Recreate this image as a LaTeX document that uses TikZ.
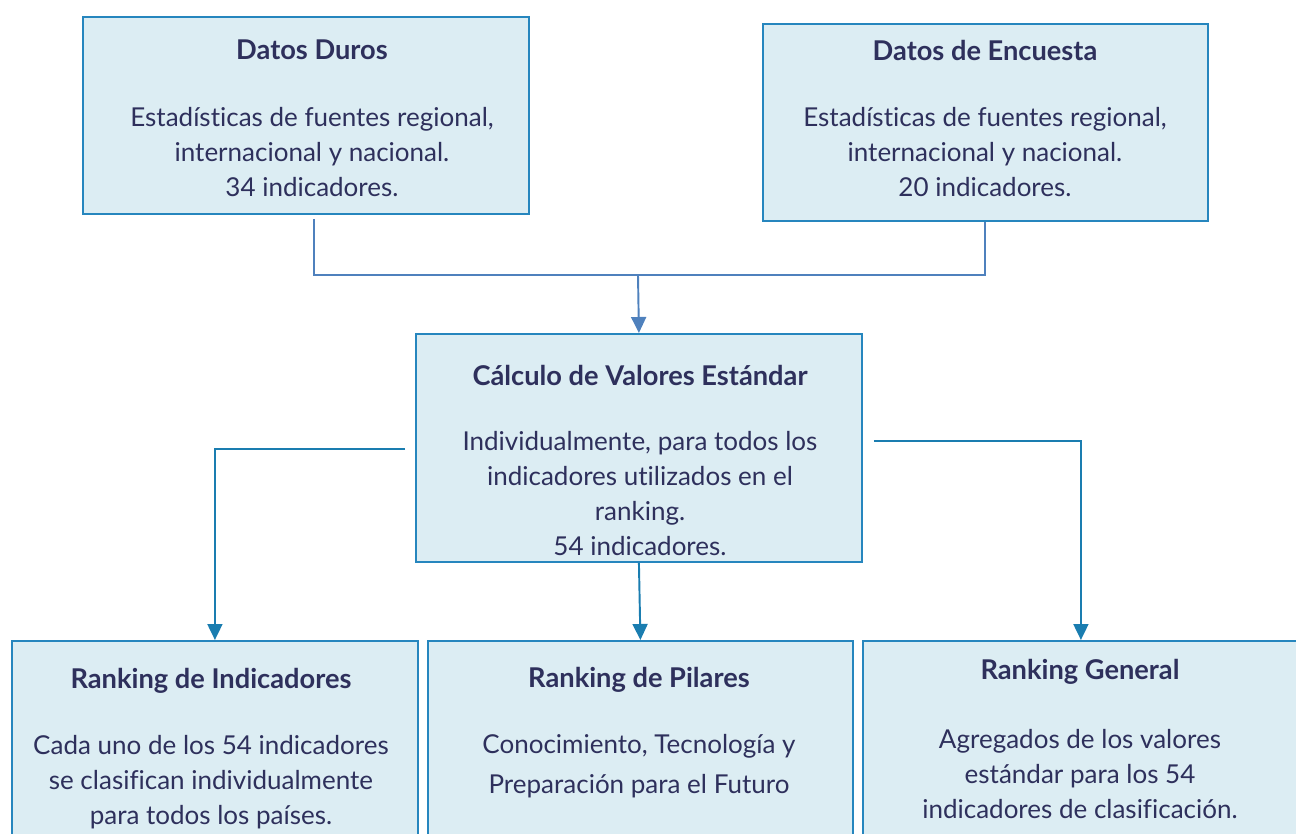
\documentclass[tikz,border=0pt]{standalone}
\usepackage{fontspec}
\setmainfont{Lato}[Ligatures=NoCommon]
\usetikzlibrary{arrows.meta,calc,positioning}
\definecolor{BoxClr}{RGB}{220,237,243}
\definecolor{EdgeClr}{RGB}{38,134,190}
\definecolor{TopLineClr}{RGB}{79,129,189}
\definecolor{LineClr}{RGB}{26,125,176}
\definecolor{TextClr}{RGB}{46,48,92}

\begin{document}
\begin{tikzpicture}[x=0.02cm,y=-0.02cm,
  box/.style={draw=EdgeClr,fill=BoxClr,line width=1.1pt,anchor=north west,inner sep=0pt},
  title/.style={text=TextClr,font=\fontsize{15.5}{20}\selectfont\bfseries},
  body/.style={text=TextClr,font=\fontsize{14.8}{19.9}\selectfont,align=center},
  link/.style={draw=LineClr,line width=1.1pt},
  tip/.style={-{Triangle[length=0.32cm,width=0.3cm]}}]
\useasboundingbox (0,0) rectangle (1296,834);
\clip (0,0) rectangle (1296,834);

\node[box,minimum width=8.92cm,minimum height=3.94cm] (duros) at (82,16) {};
\node[box,minimum width=8.9cm,minimum height=3.94cm] (encuesta) at (762,23) {};
\node[box,minimum width=8.92cm,minimum height=4.56cm] (calc) at (415,333) {};
\node[box,minimum width=8.12cm,minimum height=4.2cm] (indic) at (11,640) {};
\node[box,minimum width=8.5cm,minimum height=4.2cm] (pilar) at (427,640) {};
\node[box,minimum width=8.72cm,minimum height=4.2cm] (general) at (862,640) {};

\node[title] (durosT) at (312,50) {Datos Duros};
\node[body] (durosB) at (312,152) {Estadísticas de fuentes regional,\\internacional y nacional.\\34 indicadores.};
\node[title] (encuestaT) at (985,50) {Datos de Encuesta};
\node[body] (encuestaB) at (985,152) {Estadísticas de fuentes regional,\\internacional y nacional.\\20 indicadores.};
\node[title] (calcT) at (640,375) {Cálculo de Valores Estándar};
\node[body] (calcB) at (640,493.5) {Individualmente, para todos los\\indicadores utilizados en el\\ranking.\\54 indicadores.};
\node[title] (indicT) at (211,681) {Ranking de Indicadores};
\node[body] (indicB) at (211,782) {Cada uno de los 54 indicadores\\se clasifican individualmente\\para todos los países.};
\node[title] (pilarT) at (639,680) {Ranking de Pilares};
\node[body] (pilarB) at (639,766) {Conocimiento, Tecnología y\\[3pt]Preparación para el Futuro};
\node[title] (generalT) at (1080,672) {Ranking General};
\node[body] (generalB) at (1080,774) {Agregados de los valores\\estándar para los 54\\indicadores de clasificación.};

\coordinate (join) at (638,275);
\draw[link,TopLineClr] ($(duros.south)+(8,4)$) |- (join) -| (encuesta.south);
\draw[link,TopLineClr,tip] (join) -- (calc.north);
\draw[link,tip] ($(calc.north west)+(-10,116)$) -| (indic.north);
\draw[link,tip] (calc.south) -- (pilar.north);
\draw[link,tip] ($(calc.north east)+(11,108)$) -| (general.north);
\end{tikzpicture}
\end{document}
